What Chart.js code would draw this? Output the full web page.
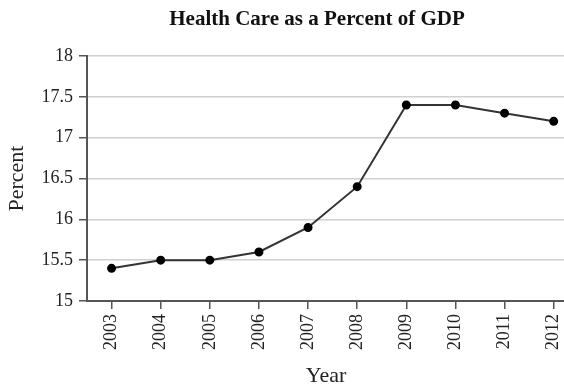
<!DOCTYPE html>
<html><head><meta charset="utf-8">
<script src="https://cdn.jsdelivr.net/npm/chart.js@4/dist/chart.umd.min.js"></script>
<style>html,body{margin:0;padding:0;background:#fff;overflow:hidden}#w{width:571px;height:389px;position:relative}</style>
</head><body><div id="w"><canvas id="c"></canvas></div>
<script>
const years = [2003,2004,2005,2006,2007,2008,2009,2010,2011,2012];
const percent = [15.4,15.5,15.5,15.6,15.9,16.4,17.4,17.4,17.3,17.2];
const yTicks = [15,15.5,16,16.5,17,17.5,18];
const titleText = 'Health Care as a Percent of GDP';
const xTitle = 'Year';
const yTitle = 'Percent';
const FF = '"Liberation Serif","Times New Roman",serif';

const titlePlugin = {
  id:'ctitle',
  afterDraw(chart){
    const ctx = chart.ctx;
    ctx.save();
    ctx.font = 'bold 21px ' + FF;
    ctx.fillStyle = '#111';
    ctx.textAlign = 'center';
    ctx.textBaseline = 'middle';
    ctx.fillText(titleText, 317, 20);
    ctx.restore();
  }
};

new Chart(document.getElementById('c'), {
  type:'line',
  data:{datasets:[{
    data: years.map((y,i)=>({x:y,y:percent[i]})),
    borderColor:'#333', borderWidth:2,
    pointBackgroundColor:'#000', pointBorderColor:'#000',
    pointRadius:3.5, tension:0
  }]},
  options:{
    responsive:true, maintainAspectRatio:false, animation:false,
    layout:{padding:{top:56,right:0,left:0,bottom:0}},
    plugins:{legend:{display:false},tooltip:{enabled:false}},
    scales:{
      x:{type:'linear', min:2002.5, max:2012.23,
        afterBuildTicks:s=>{s.ticks=years.map(v=>({value:v}));},
        afterFit:s=>{s.height=88; s.paddingLeft=0; s.paddingRight=0;},
        grid:{drawOnChartArea:false, drawTicks:true, tickLength:8, color:'#555', lineWidth:1.5},
        border:{color:'#555', width:2},
        ticks:{minRotation:90, maxRotation:90, padding:5, color:'#222',
          font:{family:FF,size:18}, callback:v=>String(v)},
        title:{display:true,text:xTitle,color:'#222',font:{family:FF,size:22},padding:{top:2,bottom:0}}
      },
      y:{min:15,max:18,
        afterBuildTicks:s=>{s.ticks=yTicks.map(v=>({value:v}));},
        afterFit:s=>{s.width=87; s.paddingTop=0; s.paddingBottom=0;},
        grid:{color:'#d0d0d0', lineWidth:1.5, tickLength:8, tickColor:'#555', tickWidth:1.5},
        border:{color:'#555', width:2},
        ticks:{color:'#222', padding:6, font:{family:FF,size:18}, callback:v=>String(v)},
        title:{display:true,text:yTitle,color:'#222',font:{family:FF,size:22},padding:{top:4,bottom:0}}
      }
    }
  },
  plugins:[titlePlugin]
});
</script></body></html>
